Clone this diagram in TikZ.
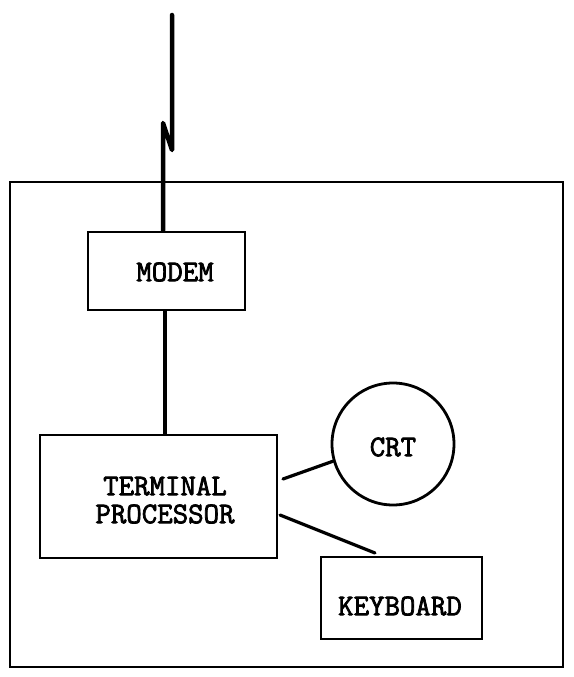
\documentclass[tikz,border=0pt]{standalone}
\usepackage{fontspec}
\setmonofont{Latin Modern Mono}[AutoFakeBold=2.5]
\usetikzlibrary{calc}
\begin{document}
\begin{tikzpicture}[x=1pt,y=-1pt,
  box/.style={draw, line width=2.8pt, rectangle, inner sep=0pt},
  roundbox/.style={draw, line width=2.8pt, circle, inner sep=0pt},
  lbl/.style={font=\ttfamily\bfseries\fontsize{30}{28}\selectfont, align=center, inner sep=0pt},
  wire/.style={line width=3.2pt, line cap=round},
  antenna/.style={line width=4.5pt, line cap=round, line join=round}]
\useasboundingbox (0,0) rectangle (573,677);
% outer frame
\node[box, minimum width=553pt, minimum height=485pt] (frame) at (286.5,424.5) {};
% blocks
\node[box, minimum width=157pt, minimum height=78pt] (modem) at (166.5,271) {};
\node[lbl] (modemtxt) at (175,272) {MODEM};
\node[box, minimum width=237pt, minimum height=123pt] (tp) at (158.5,496.5) {};
\node[lbl] (tptxt) at (165,500) {TERMINAL\\PROCESSOR};
\node[roundbox, minimum size=122pt] (crt) at (393,444) {};
\node[lbl] (crttxt) at (393,447) {CRT};
\node[box, minimum width=161pt, minimum height=82pt] (kb) at (401.5,598) {};
\node[lbl] (kbtxt) at (400,606) {KEYBOARD};
% antenna
\coordinate (zz1) at (163,123);
\coordinate (zz2) at (172,150);
\coordinate (top) at (172,15);
\draw[antenna] (modem.north -| zz1) -- (zz1) -- (zz2) -- (top);
% connectors
\draw[wire] (modem.south -| 165,0) -- (tp.north -| 165,0);
\coordinate (tpa) at (283,479);
\coordinate (tpb) at (280,515);
\coordinate (kbt) at (375,553);
\draw[wire] (tpa) -- (crt.196.8);
\draw[wire] (tpb) -- (kbt);
\end{tikzpicture}
\end{document}
